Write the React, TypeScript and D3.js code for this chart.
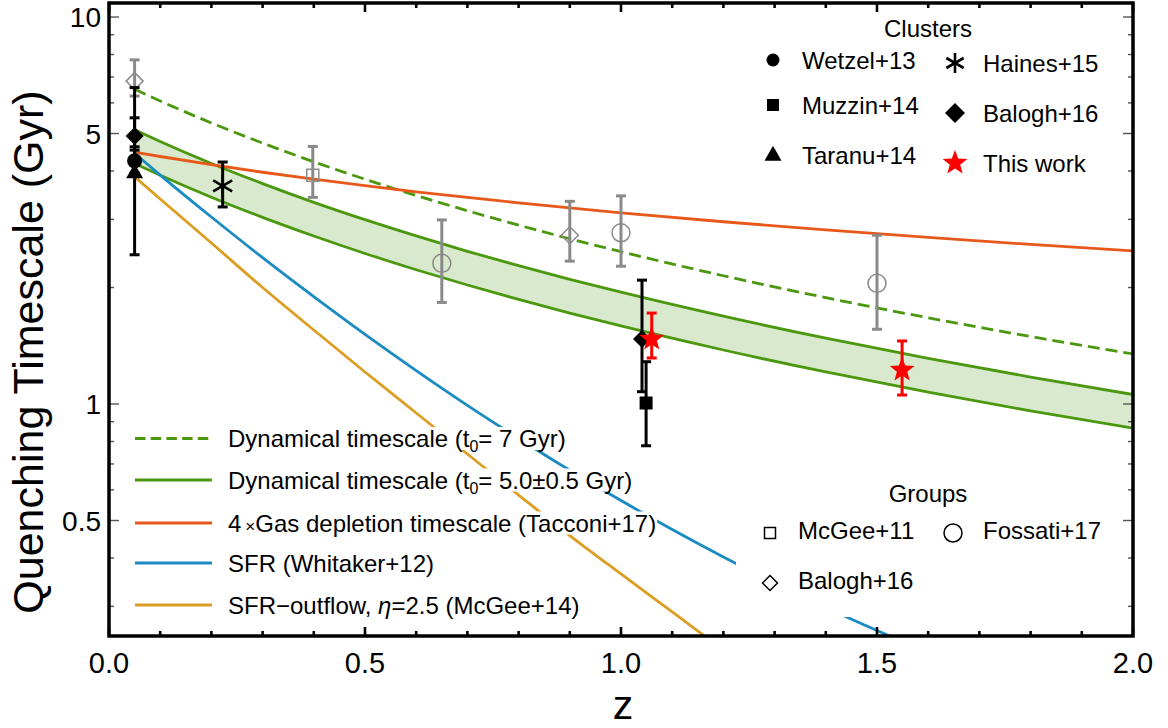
import React, { useEffect, useRef } from "react";
import * as d3 from "d3";

const W = 1168;
const H = 728;

// model curves
const zGrid = [0.05, 0.1, 0.2, 0.3, 0.4, 0.5, 0.6, 0.7, 0.8, 0.9, 1.0, 1.2, 1.4, 1.6, 1.8, 2.0];
const dynDashed = [6.506, 6.068, 5.325, 4.723, 4.226, 3.81, 3.459, 3.158, 2.899, 2.673, 2.475, 2.145, 1.883, 1.67, 1.494, 1.347];
const dynUpper = [5.112, 4.767, 4.184, 3.711, 3.32, 2.994, 2.718, 2.481, 2.277, 2.1, 1.945, 1.686, 1.479, 1.312, 1.174, 1.058];
const dynLower = [4.182, 3.901, 3.423, 3.036, 2.717, 2.449, 2.223, 2.03, 1.863, 1.718, 1.591, 1.379, 1.21, 1.073, 0.96, 0.866];
const gasDepletion = [4.476, 4.361, 4.153, 3.971, 3.81, 3.666, 3.535, 3.418, 3.31, 3.211, 3.12, 2.958, 2.817, 2.694, 2.584, 2.486];

const sfrZ = [0.05, 0.1, 0.2, 0.3, 0.4, 0.5, 0.6, 0.7, 0.8, 0.9, 1.0, 1.1, 1.2, 1.3, 1.4, 1.5, 1.6];
const sfrWhitaker = [4.444, 3.905, 3.042, 2.389, 1.894, 1.513, 1.22, 0.992, 0.8145, 0.674, 0.563, 0.474, 0.4026, 0.3448, 0.2979, 0.2598, 0.2284];
const outZ = [0.05, 0.1, 0.2, 0.3, 0.4, 0.5, 0.6, 0.7, 0.8, 0.9, 1.0, 1.1, 1.2];
const sfrOutflow = [3.865, 3.387, 2.606, 2.0, 1.553, 1.21, 0.948, 0.7426, 0.5818, 0.4572, 0.3637, 0.2902, 0.2313];

// observational points
const clusterShapes = ["circle", "triangle", "diamond", "asterisk", "square", "diamond"];
const clusterZ = [0.05, 0.05, 0.05, 0.222, 1.049, 1.041];
const clusterT = [4.25, 3.96, 4.93, 3.66, 1.006, 1.472];
const clusterLo = [3.95, 2.43, 4.62, 3.23, 0.78, 1.076];
const clusterHi = [6.57, 4.53, 5.49, 4.22, 1.286, 2.09];

const thisWorkZ = [1.06, 1.549];
const thisWorkT = [1.472, 1.224];
const thisWorkLo = [1.315, 1.055];
const thisWorkHi = [1.718, 1.455];

const groupShapes = ["square", "diamond", "diamond", "circle", "circle", "circle"];
const groupZ = [0.398, 0.05, 0.9, 0.65, 1.0, 1.5];
const groupT = [3.9, 6.83, 2.73, 2.31, 2.77, 2.05];
const groupLo = [3.42, 6.25, 2.34, 1.83, 2.27, 1.56];
const groupHi = [4.63, 7.75, 3.34, 2.99, 3.45, 2.73];

// legend entries
const clusterCol1 = ["Wetzel+13", "Muzzin+14", "Taranu+14"];
const clusterCol2 = ["Haines+15", "Balogh+16", "This work"];

const xTicksMajor = [0, 0.5, 1.0, 1.5, 2.0];
const xTickLabels = ["0.0", "0.5", "1.0", "1.5", "2.0"];
const yTicksMajor = [0.5, 1, 5, 10];
const yTickLabels = ["0.5", "1", "5", "10"];
const yTicksMinor = [0.3, 0.4, 0.6, 0.7, 0.8, 0.9, 2, 3, 4, 6, 7, 8, 9];

const GREEN = "#4b980f";
const BAND = "#d9e9cd";
const RED_ORANGE = "#e8581a";
const BLUE = "#1a8bc3";
const YELLOW = "#dd9d22";
const GRAY = "#8a8a8a";
const FONT = "'Liberation Sans', Arial, Helvetica, sans-serif";

export default function App() {
  const ref = useRef<SVGSVGElement>(null);

  useEffect(() => {
    const svg = d3.select(ref.current as SVGSVGElement);
    svg.selectAll("*").remove();

    const L = 109, R = 1133, T = 3, B = 636;
    const x = d3.scaleLinear().domain([0, 2]).range([L, R]);
    const y = d3.scaleLog().domain([0.25, 10.87]).range([637, 3]);

    const defs = svg.append("defs");
    defs.append("clipPath").attr("id", "plotClip")
      .append("rect").attr("x", L).attr("y", T).attr("width", R - L).attr("height", B - T);

    const plot = svg.append("g").attr("clip-path", "url(#plotClip)");

    const band = zGrid.map((z, i) => ({ z, lo: dynLower[i], hi: dynUpper[i] }));
    plot.append("path").datum(band)
      .attr("d", d3.area<any>().x((d) => x(d.z)).y0((d) => y(d.lo)).y1((d) => y(d.hi)).curve(d3.curveMonotoneX))
      .attr("fill", BAND);

    const line = d3.line<[number, number]>().x((d) => x(d[0])).y((d) => y(d[1])).curve(d3.curveMonotoneX);
    const drawCurve = (zs: number[], vs: number[], color: string, dash?: string) => {
      const p = plot.append("path").datum(zs.map((z, i) => [z, vs[i]] as [number, number]))
        .attr("d", line).attr("fill", "none").attr("stroke", color).attr("stroke-width", 2.8);
      if (dash) p.attr("stroke-dasharray", dash);
    };
    drawCurve(zGrid, dynDashed, GREEN, "12,6");
    drawCurve(zGrid, dynUpper, GREEN);
    drawCurve(zGrid, dynLower, GREEN);
    drawCurve(zGrid, gasDepletion, RED_ORANGE);
    drawCurve(sfrZ, sfrWhitaker, BLUE);
    drawCurve(outZ, sfrOutflow, YELLOW);

    // marker helpers
    const star5 = (ro: number, ri: number) => {
      const pts: string[] = [];
      for (let k = 0; k < 10; k++) {
        const r = k % 2 === 0 ? ro : ri;
        const a = -Math.PI / 2 + (k * Math.PI) / 5;
        pts.push(`${(r * Math.cos(a)).toFixed(2)},${(r * Math.sin(a)).toFixed(2)}`);
      }
      return "M" + pts.join("L") + "Z";
    };
    const drawMarker = (g: any, shape: string, cx: number, cy: number, s: number, filled: boolean, color: string) => {
      const fill = filled ? color : "none";
      const sw = filled ? 0 : 1.5;
      if (shape === "circle") {
        g.append("circle").attr("cx", cx).attr("cy", cy).attr("r", s).attr("fill", fill).attr("stroke", color).attr("stroke-width", sw);
      } else if (shape === "square") {
        g.append("rect").attr("x", cx - s).attr("y", cy - s).attr("width", 2 * s).attr("height", 2 * s)
          .attr("fill", fill).attr("stroke", color).attr("stroke-width", sw);
      } else if (shape === "diamond") {
        g.append("path").attr("d", `M${cx},${cy - s}L${cx + s},${cy}L${cx},${cy + s}L${cx - s},${cy}Z`)
          .attr("fill", fill).attr("stroke", color).attr("stroke-width", sw);
      } else if (shape === "triangle") {
        const h = s * 1.75;
        g.append("path").attr("d", `M${cx},${cy - h * 0.62}L${cx + s},${cy + h * 0.38}L${cx - s},${cy + h * 0.38}Z`)
          .attr("fill", fill);
      } else if (shape === "asterisk") {
        [90, 30, 150].forEach((deg) => {
          const a = (deg * Math.PI) / 180;
          g.append("line").attr("x1", cx - s * Math.cos(a)).attr("y1", cy - s * Math.sin(a))
            .attr("x2", cx + s * Math.cos(a)).attr("y2", cy + s * Math.sin(a))
            .attr("stroke", color).attr("stroke-width", 2.6);
        });
      } else if (shape === "star") {
        g.append("path").attr("d", star5(s, s * 0.42)).attr("transform", `translate(${cx},${cy})`).attr("fill", color);
      }
    };
    const drawErr = (g: any, z: number, lo: number, hi: number, color: string) => {
      const cx = x(z);
      g.append("line").attr("x1", cx).attr("x2", cx).attr("y1", y(lo)).attr("y2", y(hi)).attr("stroke", color).attr("stroke-width", 3);
      [lo, hi].forEach((v) => {
        g.append("line").attr("x1", cx - 5).attr("x2", cx + 5).attr("y1", y(v)).attr("y2", y(v)).attr("stroke", color).attr("stroke-width", 3);
      });
    };

    const pts = svg.append("g").attr("clip-path", "url(#plotClip)");
    const markerSize: Record<string, number> = { circle: 7.5, square: 6.5, diamond: 9, triangle: 8.5, asterisk: 11 };
    const groupSize: Record<string, number> = { circle: 9, square: 6, diamond: 8.5 };

    groupZ.forEach((z, i) => drawErr(pts, z, groupLo[i], groupHi[i], GRAY));
    groupZ.forEach((z, i) => drawMarker(pts, groupShapes[i], x(z), y(groupT[i]), groupSize[groupShapes[i]], false, GRAY));
    clusterZ.forEach((z, i) => drawErr(pts, z, clusterLo[i], clusterHi[i], "#000"));
    clusterZ.forEach((z, i) => drawMarker(pts, clusterShapes[i], x(z), y(clusterT[i]), markerSize[clusterShapes[i]], true, "#000"));
    thisWorkZ.forEach((z, i) => drawErr(pts, z, thisWorkLo[i], thisWorkHi[i], "#ff0000"));
    thisWorkZ.forEach((z, i) => drawMarker(pts, "star", x(z), y(thisWorkT[i]), 13, true, "#ff0000"));

    // ---- legends ----
    const leg = svg.append("g").attr("font-family", FONT).attr("font-size", 24).attr("fill", "#000");

    const textWithBg = (g: any, tx: number, cy: number, build: (t: any) => void) => {
      const grp = g.append("g");
      const t = grp.append("text").attr("x", tx).attr("y", cy + 8.5);
      build(t);
      const bb = (t.node() as SVGTextElement).getBBox();
      grp.insert("rect", "text").attr("x", bb.x - 1).attr("y", cy - 11.5).attr("width", bb.width + 2).attr("height", 23).attr("fill", "#fff");
      return grp;
    };

    // groups legend background (occludes curves)
    leg.append("rect").attr("x", 736).attr("y", 474).attr("width", 320).attr("height", 143).attr("fill", "#fff");

    const mainRows = [438.5, 480, 523, 563, 605];
    const mainColors = [GREEN, GREEN, RED_ORANGE, BLUE, YELLOW];
    mainRows.forEach((cy, i) => {
      const l = leg.append("line").attr("x1", 135).attr("x2", 212).attr("y1", cy).attr("y2", cy)
        .attr("stroke", mainColors[i]).attr("stroke-width", 3);
      if (i === 0) l.attr("stroke-dasharray", "10.5,5.2");
    });
    textWithBg(leg, 228, mainRows[0], (t) => {
      t.append("tspan").text("Dynamical timescale (t");
      t.append("tspan").attr("font-size", 16).attr("dy", 5).text("0");
      t.append("tspan").attr("dy", -5).text("= 7 Gyr)");
    });
    textWithBg(leg, 228, mainRows[1], (t) => {
      t.append("tspan").text("Dynamical timescale (t");
      t.append("tspan").attr("font-size", 16).attr("dy", 5).text("0");
      t.append("tspan").attr("dy", -5).text("= 5.0\u00b10.5 Gyr)");
    });
    textWithBg(leg, 228, mainRows[2], (t) => {
      t.append("tspan").text("4");
      t.append("tspan").attr("font-size", 17).attr("dx", 4).text("\u00d7");
      t.append("tspan").text("Gas depletion timescale (Tacconi+17)");
    });
    textWithBg(leg, 228, mainRows[3], (t) => {
      t.append("tspan").text("SFR (Whitaker+12)");
    });
    textWithBg(leg, 228, mainRows[4], (t) => {
      t.append("tspan").text("SFR\u2212outflow, ");
      t.append("tspan").attr("font-style", "italic").text("\u03b7");
      t.append("tspan").text("=2.5 (McGee+14)");
    });

    // clusters legend
    leg.append("text").attr("x", 928).attr("y", 36.5).attr("text-anchor", "middle").text("Clusters");
    const c1y = [60, 105, 155];
    const c1shapes = ["circle", "square", "triangle"];
    const c1size = [6.5, 6, 8.5];
    c1y.forEach((cy, i) => {
      drawMarker(leg, c1shapes[i], 773, cy, c1size[i], true, "#000");
      leg.append("text").attr("x", 802).attr("y", cy + 8.5).text(clusterCol1[i]);
    });
    const c2y = [63, 113, 163];
    const c2shapes = ["asterisk", "diamond", "star"];
    const c2size = [10, 10, 13];
    c2y.forEach((cy, i) => {
      drawMarker(leg, c2shapes[i], 955, cy, c2size[i], true, i === 2 ? "#ff0000" : "#000");
      leg.append("text").attr("x", 983).attr("y", cy + 8.5).text(clusterCol2[i]);
    });

    // groups legend
    leg.append("text").attr("x", 928).attr("y", 501.5).attr("text-anchor", "middle").text("Groups");
    drawMarker(leg, "square", 770, 533, 5.5, false, "#000");
    leg.append("text").attr("x", 798).attr("y", 538.5).text("McGee+11");
    drawMarker(leg, "circle", 953, 533, 9, false, "#000");
    leg.append("text").attr("x", 983).attr("y", 538.5).text("Fossati+17");
    drawMarker(leg, "diamond", 770, 583, 7.5, false, "#000");
    leg.append("text").attr("x", 798).attr("y", 588.5).text("Balogh+16");

    // ---- frame & ticks ----
    const axes = svg.append("g");
    const xMinor = d3.range(0, 2.0001, 0.1);
    xMinor.forEach((v) => {
      const isMajor = xTicksMajor.some((m) => Math.abs(m - v) < 1e-6);
      const len = isMajor ? 9 : 5;
      const xx = x(v);
      axes.append("line").attr("x1", xx).attr("x2", xx).attr("y1", B).attr("y2", B - len).attr("stroke", "#000").attr("stroke-width", 2.6);
      axes.append("line").attr("x1", xx).attr("x2", xx).attr("y1", T).attr("y2", T + len).attr("stroke", "#000").attr("stroke-width", 2.6);
    });
    const yTickDraw = (v: number, len: number) => {
      const yy = y(v);
      axes.append("line").attr("x1", L).attr("x2", L + len).attr("y1", yy).attr("y2", yy).attr("stroke", "#555").attr("stroke-width", 1.4);
      axes.append("line").attr("x1", R).attr("x2", R - len).attr("y1", yy).attr("y2", yy).attr("stroke", "#555").attr("stroke-width", 1.4);
    };
    yTicksMajor.forEach((v) => yTickDraw(v, 10));
    yTicksMinor.forEach((v) => yTickDraw(v, 5));

    axes.append("rect").attr("x", L).attr("y", T).attr("width", R - L).attr("height", B - T)
      .attr("fill", "none").attr("stroke", "#000").attr("stroke-width", 3.5);

    const lab = svg.append("g").attr("font-family", FONT).attr("fill", "#000");
    xTicksMajor.forEach((v, i) => {
      lab.append("text").attr("x", x(v)).attr("y", 673).attr("text-anchor", "middle").attr("font-size", 29).text(xTickLabels[i]);
    });
    yTicksMajor.forEach((v, i) => {
      lab.append("text").attr("x", 101).attr("y", y(v) + 10).attr("text-anchor", "end").attr("font-size", 28).text(yTickLabels[i]);
    });
    lab.append("text").attr("x", 623).attr("y", 719).attr("text-anchor", "middle").attr("font-size", 41).text("z");
    lab.append("text").attr("transform", `translate(43,352) rotate(-90)`).attr("text-anchor", "middle").attr("font-size", 43)
      .text("Quenching Timescale (Gyr)");
  }, []);

  return (
    <svg ref={ref} width={W} height={H} style={{ position: "absolute", left: 0, top: 0, background: "#fff" }} />
  );
}
